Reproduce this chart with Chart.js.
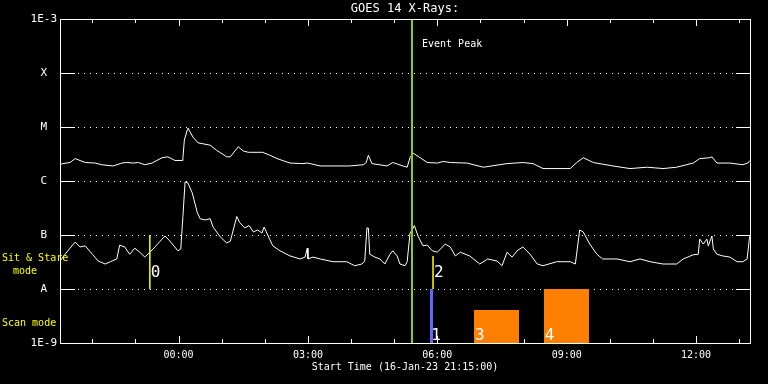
<!DOCTYPE html>
<html><head><meta charset="utf-8">
<script src="https://cdn.jsdelivr.net/npm/chart.js@4/dist/chart.umd.min.js"></script>
<style>html,body{margin:0;padding:0;background:#000;overflow:hidden}</style>
</head><body>
<canvas id="c" width="768" height="384"></canvas>
<script>
// Times are minutes after the start time 16-Jan-23 21:15:00
const longTimes = [0,4,14,21,35,49,58,74,86,93,102,109,118,128,142,150,160,170,171,173,177,178,181,185,192,209,218,232,237,248,255,262,267,282,292,302,320,338,344,348,362,403,422,426,429,434,455,463,477,483,487,491,501,511,525,533,543,566,589,622,644,658,672,710,719,728,742,769,793,817,839,858,881,890,904,907,914,932,950,957,960];
const longFlux = [2.0e-6,2.1e-6,2.2e-6,2.6e-6,2.2e-6,2.15e-6,2.0e-6,1.9e-6,2.15e-6,2.2e-6,2.15e-6,2.2e-6,2.0e-6,2.15e-6,2.7e-6,2.8e-6,2.4e-6,2.4e-6,2.7e-6,5.7e-6,8.8e-6,9.6e-6,8.1e-6,6.5e-6,5.1e-6,4.6e-6,3.7e-6,2.8e-6,2.8e-6,4.3e-6,3.6e-6,3.4e-6,3.4e-6,3.4e-6,3.0e-6,2.6e-6,2.15e-6,2.1e-6,2.15e-6,2.1e-6,1.9e-6,1.9e-6,2.0e-6,2.2e-6,3.0e-6,2.1e-6,1.9e-6,2.2e-6,1.9e-6,1.8e-6,2.7e-6,3.3e-6,2.7e-6,2.2e-6,2.15e-6,2.3e-6,2.2e-6,2.15e-6,1.8e-6,2.1e-6,2.2e-6,2.1e-6,1.7e-6,1.7e-6,2.2e-6,2.7e-6,2.2e-6,1.9e-6,1.7e-6,1.8e-6,1.7e-6,1.8e-6,2.15e-6,2.6e-6,2.7e-6,2.8e-6,2.15e-6,2.15e-6,2.0e-6,2.15e-6,2.4e-6];
const shortTimes = [0,7,21,28,35,45,53,63,70,79,83,90,97,104,111,118,125,132,146,153,164,168,171,174,178,184,191,195,202,209,213,223,232,237,241,246,250,257,263,269,275,281,284,289,296,306,320,334,341,344,345,352,362,380,399,410,420,424,427,429,431,438,445,452,459,463,469,473,480,483,487,490,493,498,505,511,518,525,536,543,550,557,570,584,595,608,615,622,629,636,644,654,664,672,691,710,717,723,728,737,747,755,775,793,807,821,839,858,867,881,888,890,895,900,902,907,909,914,922,932,942,950,956,959,960];
const shortFlux = [3.3e-8,4.4e-8,7.4e-8,6.0e-8,6.3e-8,4.4e-8,3.3e-8,2.9e-8,3.2e-8,3.6e-8,6.5e-8,6.0e-8,4.4e-8,5.7e-8,4.8e-8,3.9e-8,4.8e-8,6.0e-8,9.6e-8,7.7e-8,5.1e-8,5.5e-8,2.2e-7,9.6e-7,9.2e-7,6.0e-7,2.6e-7,2.0e-7,1.9e-7,2.0e-7,1.4e-7,9.2e-8,7.1e-8,7.7e-8,1.24e-7,2.2e-7,1.7e-7,1.35e-7,1.5e-7,1.14e-7,1.24e-7,1.09e-7,1.4e-7,1.0e-7,6.3e-8,5.1e-8,4.1e-8,3.6e-8,3.9e-8,5.7e-8,3.6e-8,3.9e-8,3.6e-8,3.2e-8,3.2e-8,2.7e-8,2.9e-8,3.3e-8,1.35e-7,1.35e-7,4.4e-8,3.9e-8,3.6e-8,2.9e-8,4.4e-8,5.1e-8,4.1e-8,2.9e-8,2.7e-8,3.2e-8,1.09e-7,1.24e-7,1.5e-7,9.6e-8,6.3e-8,6.5e-8,5.1e-8,4.8e-8,6.8e-8,6.0e-8,4.1e-8,4.8e-8,4.1e-8,2.9e-8,3.6e-8,3.3e-8,2.7e-8,4.8e-8,3.9e-8,5.1e-8,6.0e-8,4.4e-8,2.9e-8,2.7e-8,3.2e-8,3.2e-8,2.9e-8,1.24e-7,1.14e-7,6.8e-8,4.4e-8,3.6e-8,3.6e-8,3.2e-8,3.6e-8,3.2e-8,2.9e-8,2.9e-8,3.6e-8,4.3e-8,4.4e-8,8.4e-8,6.8e-8,8.4e-8,6.3e-8,9.6e-8,5.5e-8,4.4e-8,4.1e-8,3.9e-8,3.2e-8,3.2e-8,3.6e-8,8.4e-8,9.6e-8];

const yTickValues = [1e-9,1e-8,1e-7,1e-6,1e-5,1e-4,1e-3];
const yTickLabels = ['1E-9','A','B','C','M','X','1E-3'];
const hourTicks = [45,105,165,225,285,345,405,465,525,585,645,705,765,825,885,945];
const xLabelTicks = [165,345,525,705,885];
const xLabels = ['00:00','03:00','06:00','09:00','12:00'];

const eventPeakTime = 490;
const eventPeakLabel = 'Event Peak';
const sitTimes = [125,519];
const sitTops = [1e-7,4.1e-8];
const sitBottoms = [1e-8,1e-8];
const sitLabels = ['0','2'];
const scanStarts = [515,576,673];
const scanEnds = [519,639,736];
const scanTops = [1e-8,4e-9,1e-8];
const scanLabels = ['1','3','4'];

const titleText = 'GOES 14 X-Rays:';
const xTitleText = 'Start Time (16-Jan-23 21:15:00)';

// styles
const FONT = 'DejaVu Sans Mono';
const scanColors = ['#6666ff','#ff8000','#ff8000'];
const sitColor = '#ffff00';
const peakColor = '#99cc00';

const overlay = {
  id: 'overlay',
  beforeDraw(chart) {
    const ctx = chart.ctx;
    ctx.save(); ctx.fillStyle = '#000'; ctx.fillRect(0,0,chart.width,chart.height); ctx.restore();
  },
  beforeDatasetsDraw(chart) {
    const {ctx, chartArea: a, scales: {x, y}} = chart;
    ctx.save();
    ctx.strokeStyle = '#fff'; ctx.fillStyle = '#fff'; ctx.lineWidth = 1;
    // grid levels
    yTickValues.forEach(v => {
      if (v === yTickValues[0] || v === yTickValues[yTickValues.length-1]) return;
      const py = Math.round(y.getPixelForValue(v));
      ctx.fillRect(a.left, py, 15, 1);
      ctx.fillRect(a.right - 14, py, 14, 1);
      for (let px = a.left + 18; px < a.right - 16; px += 6) ctx.fillRect(px, py, 1, 1);
    });
    // hour ticks (inward)
    hourTicks.forEach(t => {
      const px = Math.round(x.getPixelForValue(t));
      const len = xLabelTicks.includes(t) ? 7 : 4;
      ctx.fillRect(px, Math.round(a.top), 1, len);
      ctx.fillRect(px, Math.round(a.bottom) - len, 1, len);
    });
    ctx.strokeRect(Math.round(a.left)+0.5, Math.round(a.top)+0.5, Math.round(a.right-a.left), Math.round(a.bottom-a.top));
    ctx.restore();
  },
  afterDatasetsDraw(chart) {
    const {ctx, chartArea: a, scales: {x, y}} = chart;
    ctx.save();
    // scan bars
    scanStarts.forEach((s, i) => {
      const x0 = x.getPixelForValue(s), x1 = x.getPixelForValue(scanEnds[i]);
      const yt = y.getPixelForValue(scanTops[i]), yb = y.getPixelForValue(yTickValues[0]);
      ctx.fillStyle = scanColors[i];
      ctx.fillRect(Math.round(x0), Math.round(yt), Math.max(3, Math.round(x1 - x0)), Math.round(yb - yt));
    });
    // sit & stare lines
    ctx.strokeStyle = sitColor; ctx.lineWidth = 1.5;
    sitTimes.forEach((t, i) => {
      const px = x.getPixelForValue(t);
      ctx.beginPath();
      ctx.moveTo(px, y.getPixelForValue(sitTops[i]));
      ctx.lineTo(px, y.getPixelForValue(sitBottoms[i]));
      ctx.stroke();
    });
    // event peak line
    const ep = Math.round(x.getPixelForValue(eventPeakTime));
    ctx.fillStyle = peakColor;
    ctx.fillRect(ep - 1, a.top + 1, 2, a.bottom - a.top - 1);
    // texts
    ctx.fillStyle = '#fff';
    ctx.textAlign = 'left'; ctx.textBaseline = 'alphabetic';
    ctx.font = '10px "' + FONT + '"';
    ctx.fillText(eventPeakLabel, ep + 10, a.top + 28);
    ctx.font = '16px "' + FONT + '"';
    sitTimes.forEach((t, i) => {
      const px = x.getPixelForValue(t);
      ctx.fillText(sitLabels[i], px + 1, y.getPixelForValue(sitBottoms[i]) - 12);
    });
    scanStarts.forEach((s, i) => {
      const px = x.getPixelForValue(s);
      ctx.fillText(scanLabels[i], px + 1, a.bottom - 3);
    });
    // title
    ctx.font = '12px "' + FONT + '"';
    ctx.textAlign = 'center'; ctx.textBaseline = 'middle';
    ctx.fillText(titleText, (a.left + a.right) / 2, 9);
    // mode labels
    ctx.fillStyle = '#ffff00';
    ctx.font = '10px "' + FONT + '"';
    ctx.textAlign = 'left';
    ctx.fillText('Sit & Stare', 2, 258);
    ctx.fillText('mode', 13, 271);
    ctx.fillText('Scan mode', 2, 323);
    ctx.restore();
  }
};

Chart.defaults.font.family = FONT;
new Chart(document.getElementById('c'), {
  type: 'line',
  data: {
    datasets: [
      { label: '1-8 A', data: longTimes.map((t, i) => ({x: t, y: longFlux[i]})),
        borderColor: '#fff', borderWidth: 1, pointRadius: 0, tension: 0, fill: false },
      { label: '0.5-4 A', data: shortTimes.map((t, i) => ({x: t, y: shortFlux[i]})),
        borderColor: '#fff', borderWidth: 1, pointRadius: 0, tension: 0, fill: false }
    ]
  },
  options: {
    responsive: false,
    animation: false,
    devicePixelRatio: 1,
    layout: { padding: { left: 0, right: 18, top: 19, bottom: 0 } },
    plugins: { legend: { display: false }, tooltip: { enabled: false }, title: { display: false } },
    scales: {
      x: {
        type: 'linear', min: 0, max: 960,
        grid: { display: false, drawTicks: false },
        border: { display: false },
        afterBuildTicks: s => { s.ticks = xLabelTicks.map(v => ({value: v})); },
        afterFit: s => { s.height = 41; },
        ticks: { color: '#fff', font: { size: 10 }, padding: 6, maxRotation: 0, autoSkip: false,
          callback: v => xLabels[xLabelTicks.indexOf(v)] },
        title: { display: true, text: xTitleText, color: '#fff', font: { size: 10 }, padding: { top: 0, bottom: 11 } }
      },
      y: {
        type: 'logarithmic', min: 1e-9, max: 1e-3,
        grid: { display: false, drawTicks: false },
        border: { display: false },
        afterBuildTicks: s => { s.ticks = yTickValues.map(v => ({value: v})); },
        afterFit: s => { s.width = 60; },
        ticks: { color: '#fff', font: { size: 11 }, padding: 3, crossAlign: 'center', autoSkip: false,
          callback: (v, i) => yTickLabels[yTickValues.indexOf(v)] }
      }
    }
  },
  plugins: [overlay]
});
</script>
</body></html>
